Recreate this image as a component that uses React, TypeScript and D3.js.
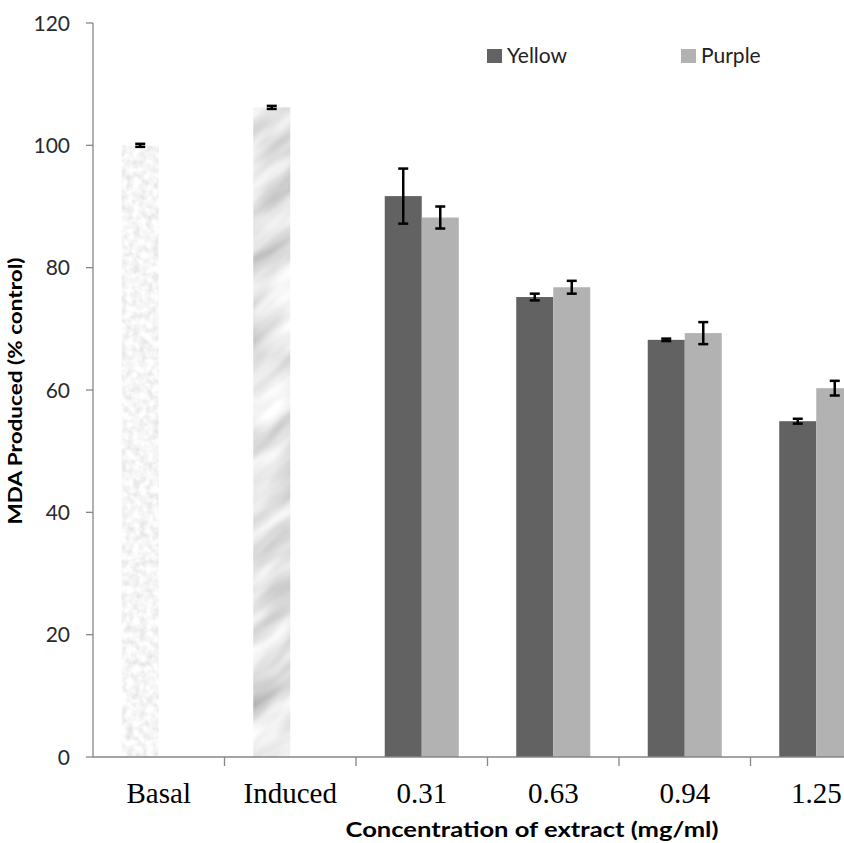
import * as d3 from "d3";

// data
const categories = ["Basal", "Induced", "0.31", "0.63", "0.94", "1.25"];
const seriesNames = ["Yellow", "Purple"];
const yellow = [100, 106.2, 91.7, 75.2, 68.2, 54.9];
const yellowErr = [0.25, 0.25, 4.5, 0.55, 0.2, 0.4];
const purple = [null, null, 88.2, 76.8, 69.3, 60.3];
const purpleErr = [null, null, 1.8, 1.05, 1.8, 1.2];
const yTicks = [0, 20, 40, 60, 80, 100, 120];

const W = 844;
const H = 843;
const left = 93;
const right = 882; // plot runs past the image edge
const top = 23;
const bottom = 757;

const colors = ["#626262", "#b2b2b2"];
const fills = ["url(#basalTex)", "url(#inducedTex)"];
const sans = "Lato, 'Open Sans', sans-serif";

export default function App() {
  const x = d3.scaleBand().domain(categories).range([left, right]).paddingInner(0).paddingOuter(0);
  const bw = x.bandwidth();
  const gap = bw * 0.437 / 2;
  const xs = d3.scaleBand().domain(seriesNames).range([gap, bw - gap]).padding(0);
  const y = d3.scaleLinear().domain([0, 120]).range([bottom, top]);

  const bars: any[] = [];
  categories.forEach((c, i) => {
    [yellow, purple].forEach((vals, s) => {
      const v = vals[i];
      if (v == null) return;
      const err = (s === 0 ? yellowErr : purpleErr)[i] as number;
      const fill = i < 2 ? fills[i] : colors[s];
      bars.push({ c, s, v, err, fill });
    });
  });

  const axisColor = "#868686";
  const capW = 10;

  return (
    <div style={{ position: "fixed", left: 0, top: 0 }}>
      <svg width={W} height={H} style={{ display: "block", background: "#fff" }}>
        <defs>
          <filter id="speckle" x="0" y="0" width="1" height="1">
            <feTurbulence type="fractalNoise" baseFrequency="0.15" numOctaves={2} seed={3} />
            <feColorMatrix type="matrix" values="0.4 0 0 0 0.72  0.4 0 0 0 0.72  0.4 0 0 0 0.72  0 0 0 0 1" />
          </filter>
          <filter id="marble" x="0" y="0" width="1" height="1">
            <feTurbulence type="fractalNoise" baseFrequency="0.01 0.035" numOctaves={3} seed={7} />
            <feColorMatrix type="matrix" values="0.85 0 0 0 0.36  0.85 0 0 0 0.36  0.85 0 0 0 0.36  0 0 0 0 1" />
          </filter>
          <pattern id="basalTex" patternUnits="userSpaceOnUse" width={400} height={900}>
            <rect width={400} height={900} filter="url(#speckle)" />
          </pattern>
          <pattern
            id="inducedTex"
            patternUnits="userSpaceOnUse"
            x={-1000}
            y={-1000}
            width={2000}
            height={2000}
            patternTransform="rotate(-40)"
          >
            <rect width={2000} height={2000} filter="url(#marble)" />
          </pattern>
        </defs>

        {/* bars */}
        {bars.map((b, k) => (
          <rect
            key={"b" + k}
            x={(x(b.c) as number) + (xs(seriesNames[b.s]) as number)}
            y={y(b.v)}
            width={xs.bandwidth()}
            height={bottom - y(b.v)}
            fill={b.fill}
          />
        ))}

        {/* error bars */}
        {bars.map((b, k) => {
          const cx = (x(b.c) as number) + (xs(seriesNames[b.s]) as number) + xs.bandwidth() / 2;
          const y1 = y(b.v + b.err);
          const y2 = y(b.v - b.err);
          return (
            <g key={"e" + k} stroke="#000" strokeWidth={2.5}>
              <line x1={cx} x2={cx} y1={y1} y2={y2} />
              <line x1={cx - capW / 2} x2={cx + capW / 2} y1={y1} y2={y1} />
              <line x1={cx - capW / 2} x2={cx + capW / 2} y1={y2} y2={y2} />
            </g>
          );
        })}

        {/* y axis */}
        <line x1={left} x2={left} y1={top} y2={bottom} stroke={axisColor} strokeWidth={1.3} />
        {yTicks.map((t) => (
          <g key={"yt" + t}>
            <line x1={left - 7} x2={left} y1={y(t)} y2={y(t)} stroke={axisColor} strokeWidth={1.3} />
            <text x={70} y={y(t)} dy="0.36em" textAnchor="end" fontFamily={sans} fontSize={21} fill="#2a2a2a">
              {t}
            </text>
          </g>
        ))}

        {/* x axis */}
        <line x1={left} x2={W} y1={bottom} y2={bottom} stroke={axisColor} strokeWidth={1.3} />
        {categories.slice(1).map((c) => (
          <line key={"xt" + c} x1={x(c)} x2={x(c)} y1={bottom} y2={bottom + 9} stroke={axisColor} strokeWidth={1.3} />
        ))}
        {categories.map((c) => (
          <text
            key={"xl" + c}
            x={(x(c) as number) + bw / 2}
            y={803}
            textAnchor="middle"
            fontFamily="'Liberation Serif', 'Times New Roman', serif"
            fontSize={29}
            fill="#000"
          >
            {c}
          </text>
        ))}

        {/* axis titles */}
        <text
          x={532}
          y={837}
          textAnchor="middle"
          fontFamily={sans}
          fontWeight="bold"
          fontSize={21}
          fill="#000"
          textLength={373}
          lengthAdjust="spacingAndGlyphs"
        >
          Concentration of extract (mg/ml)
        </text>
        <text
          transform={`translate(22,391) rotate(-90)`}
          textAnchor="middle"
          fontFamily={sans}
          fontWeight="bold"
          fontSize={19}
          fill="#000"
          textLength={267}
          lengthAdjust="spacingAndGlyphs"
        >
          MDA Produced (% control)
        </text>

        {/* legend */}
        {seriesNames.map((n, i) => {
          const lx = [487, 681][i];
          return (
            <g key={"lg" + n}>
              <rect x={lx} y={49} width={15} height={14} fill={colors[i]} />
              <text x={lx + 20} y={63} fontFamily={sans} fontSize={21} fill="#222">
                {n}
              </text>
            </g>
          );
        })}
      </svg>
    </div>
  );
}
